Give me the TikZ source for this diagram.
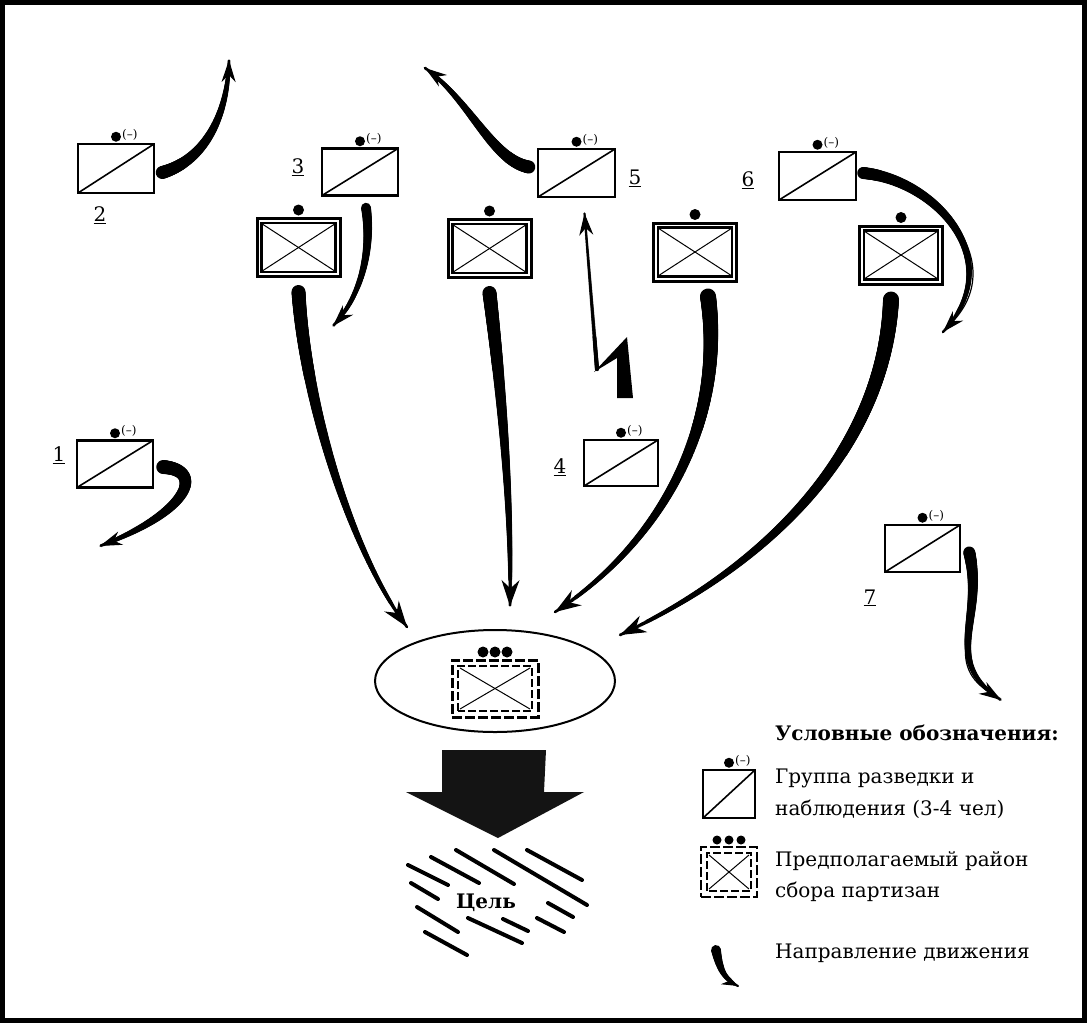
\documentclass[tikz,border=0pt]{standalone}
\usepackage{fontspec}
\setmainfont{DejaVu Serif}
\usetikzlibrary{shapes.geometric,arrows.meta,decorations.markings}

\tikzset{
  taper/.style 2 args={postaction={decorate,decoration={markings,
    mark=between positions 0 and 1 step 1pt with {
      \pgfmathsetmacro\tapr{#1+(#2-#1)*(\pgfkeysvalueof{/pgf/decoration/mark info/distance from start})/(\pgfdecoratedpathlength)}
      \fill (0,0) circle[radius=\tapr pt];}}}},
  mv/.style={line width=1.2pt, -{Stealth[length=26pt,width=18pt]}},
  mvs/.style={line width=1.2pt, -{Stealth[length=22pt,width=14pt]}},
  recon/.style={draw, line width=2.5pt, inner sep=0pt, fill=white,
    path picture={\draw[line width=1.6pt] (path picture bounding box.south west) -- (path picture bounding box.north east);}},
  combat/.style={draw, line width=3pt, minimum width=83pt, minimum height=58pt, inner sep=0pt, fill=white,
    path picture={
      \draw[line width=2.2pt] ([shift={(4.5pt,4.5pt)}]path picture bounding box.south west) rectangle ([shift={(-4.5pt,-4.5pt)}]path picture bounding box.north east);
      \draw[line width=1pt] ([shift={(6pt,6pt)}]path picture bounding box.south west) -- ([shift={(-6pt,-6pt)}]path picture bounding box.north east);
      \draw[line width=1pt] ([shift={(6pt,-6pt)}]path picture bounding box.north west) -- ([shift={(-6pt,6pt)}]path picture bounding box.south east);
    }},
  tgticon/.style={draw, line width=3pt, dash pattern=on 10pt off 3pt, inner sep=0pt, fill=white,
    path picture={
      \draw[line width=2pt, dash pattern=on 8pt off 3pt] ([shift={(6pt,6pt)}]path picture bounding box.south west) rectangle ([shift={(-6pt,-6pt)}]path picture bounding box.north east);
      \draw[line width=1pt, solid] ([shift={(8pt,8pt)}]path picture bounding box.south west) -- ([shift={(-8pt,-8pt)}]path picture bounding box.north east);
      \draw[line width=1pt, solid] ([shift={(8pt,-8pt)}]path picture bounding box.north west) -- ([shift={(-8pt,8pt)}]path picture bounding box.south east);
    }},
  num/.style={inner sep=1pt, font=\fontsize{20}{20}\selectfont},
  legtext/.style={anchor=west, inner sep=0pt, font=\fontsize{20}{20}\selectfont},
  hatch/.style={line width=4pt, line cap=round},
}

\newcommand\ReconUnit[5]{%
  \node[recon, minimum width=#4pt, minimum height=#5pt] (#1) at (#2,#3) {};
  \fill ([yshift=6pt]#1.north) circle[radius=5pt];
  \node[anchor=west, inner sep=0pt, font=\fontsize{12}{12}\selectfont] (#1m) at ([xshift=6pt,yshift=8pt]#1.north) {(–)};
}
\newcommand\CombatUnit[3]{%
  \node[combat] (#1) at (#2,#3) {};
  \fill ([yshift=7pt]#1.north) circle[radius=5.5pt];
}

\begin{document}
\begin{tikzpicture}[x=1pt,y=-1pt]
\useasboundingbox (0,0) rectangle (1087,1023);
\draw[line width=5pt] (2.5,2.5) rectangle (1084.5,1020.5);

% reconnaissance groups
\ReconUnit{r1}{115}{464}{76}{47}
\ReconUnit{r2}{116}{168.5}{76}{49}
\ReconUnit{r3}{360}{172}{76}{47}
\ReconUnit{r4}{621}{463}{74}{46}
\ReconUnit{r5}{576.5}{173}{77}{48}
\ReconUnit{r6}{817.5}{176}{77}{48}
\ReconUnit{r7}{922.5}{548.5}{75}{47}

\node[num] (n1) at (59,455) {\underline{1}};
\node[num] (n2) at (100,215) {\underline{2}};
\node[num] (n3) at (298,167) {\underline{3}};
\node[num] (n4) at (560,467) {\underline{4}};
\node[num] (n5) at (635,178) {\underline{5}};
\node[num] (n6) at (748,180) {\underline{6}};
\node[num] (n7) at (870,598) {\underline{7}};

% combat units
\CombatUnit{cA}{298.5}{247.5}
\CombatUnit{cB}{489.5}{248.5}
\CombatUnit{cC}{695}{252}
\CombatUnit{cD}{901}{255}

% target area
\node[ellipse, draw, line width=2pt, minimum width=240pt, minimum height=102pt, inner sep=0pt] (ell) at (495,681) {};
\node[tgticon, minimum width=86pt, minimum height=57pt] (tgt) at (495,688.5) {};
\foreach \xx in {483,495,507} \fill (\xx,652) circle[radius=5.5pt];

% free ends
\coordinate (e1) at (100,546);
\coordinate (e2) at (229,60);
\coordinate (e3) at (333,326);
\coordinate (e5) at (425,68);
\coordinate (e6) at (943,332);
\coordinate (e7) at (1001,700);
\coordinate (tA) at (407,627);
\coordinate (tB) at (510,606);
\coordinate (tC) at (555,612);
\coordinate (tD) at (620,635);
\coordinate (zz) at (597,369);

% movement of recon groups
\draw[mvs, taper={6.5}{1.5}] ([xshift=7pt,yshift=-4pt]r2.east) .. controls (205,160) and (228,115) .. (e2);
\draw[mvs, taper={6.5}{1.5}] ([xshift=-8pt,yshift=6pt]r5.west) .. controls (492,160) and (470,100) .. (e5);
\draw[mvs, taper={5}{1.5}] ([xshift=6pt,yshift=-11pt]r3.south) .. controls (372,250) and (362,295) .. (e3);
\draw[mvs, taper={6}{1.5}] ([xshift=6pt,yshift=3pt]r6.east) .. controls (935,180) and (1010,260) .. (e6);
\draw[mvs, taper={7}{1.5}] ([xshift=9pt,yshift=-3pt]r1.east) .. controls (205,470) and (190,512) .. (e1);
\draw[mvs, taper={6}{1.5}] ([xshift=8pt,yshift=-4pt]r7.east) .. controls (985,620) and (940,660) .. (e7);

% lightning
\fill (617,398) -- (633,398) -- (627,337) -- (594,372) -- (617,358) -- cycle;
\draw[mvs, taper={2.2}{1.2}] (zz) -- ([xshift=8pt,yshift=-15pt]r5.south);

% main converging arrows
\draw[mv, taper={7}{1.5}] ([yshift=-14pt]cA.south) .. controls (305,400) and (350,550) .. (tA);
\draw[mv, taper={7}{1.5}] ([yshift=-14pt]cB.south) .. controls (500,380) and (512,500) .. (tB);
\draw[mv, taper={8}{1.5}] ([xshift=13pt,yshift=-14pt]cC.south) .. controls (725,420) and (665,540) .. (tC);
\draw[mv, taper={8}{1.5}] ([xshift=-10pt,yshift=-14pt]cD.south) .. controls (885,440) and (780,560) .. (tD);

% big arrow to the goal
\fill[black!92] (442,750) -- (546,750) -- (544,792) -- (584,792) -- (498,838) -- (406,792) -- (442,792) -- cycle;

% goal hatch
\draw[hatch] (456,850) -- (514,884);
\draw[hatch] (494,850) -- (587,905);
\draw[hatch] (527,850) -- (582,880);
\draw[hatch] (431,857) -- (479,883);
\draw[hatch] (408,865) -- (448,885);
\draw[hatch] (411,883) -- (438,899);
\draw[hatch] (548,903) -- (573,917);
\draw[hatch] (417,907) -- (458,932);
\draw[hatch] (468,918) -- (522,943);
\draw[hatch] (503,919) -- (528,931);
\draw[hatch] (537,918) -- (564,932);
\draw[hatch] (425,932) -- (467,955);
\node[font=\fontsize{20}{20}\selectfont\bfseries, inner sep=1pt, fill=white] (goal) at (486,903) {Цель};

% legend
\node[legtext, font=\fontsize{20}{20}\selectfont\bfseries] (lh) at (775,733) {Условные обозначения:};
\ReconUnit{lr}{729}{794}{52}{48}
\node[legtext] (l1a) at (775,778) {Группа разведки и};
\node[legtext] (l1b) at (775,809) {наблюдения (3-4 чел)};
\node[tgticon, minimum width=56pt, minimum height=50pt, line width=2.5pt] (lt) at (729,872) {};
\foreach \xx in {717,729,741} \fill (\xx,840) circle[radius=4.5pt];
\node[legtext] (l2a) at (775,861) {Предполагаемый район};
\node[legtext] (l2b) at (775,892) {сбора партизан};
\coordinate (lgA) at (716,950);
\coordinate (lgB) at (738,986);
\draw[line width=1pt, -{Stealth[length=16pt,width=12pt]}, taper={5}{1.2}] (lgA) .. controls (720,972) and (726,980) .. (lgB);
\node[legtext] (l3) at (775,953) {Направление движения};
\end{tikzpicture}
\end{document}
